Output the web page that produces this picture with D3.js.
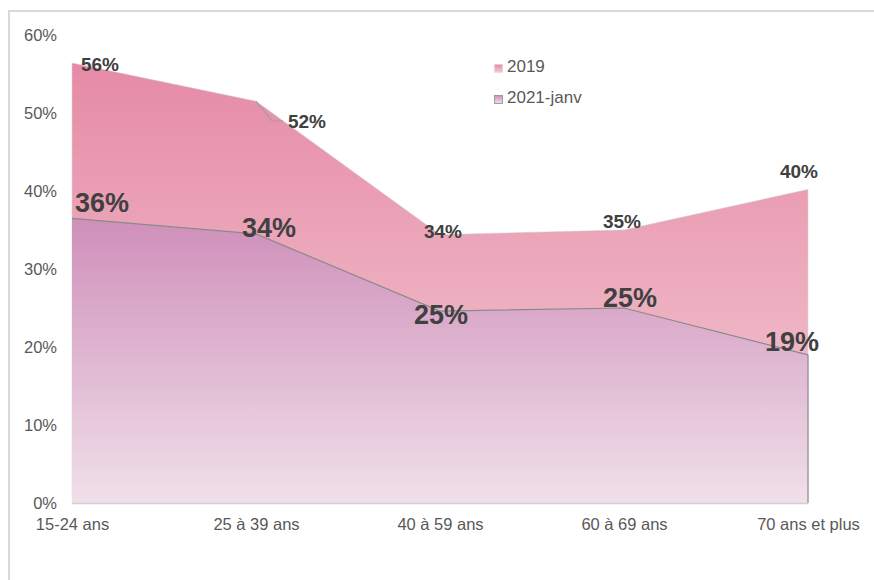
<!DOCTYPE html>
<html><head><meta charset="utf-8">
<script src="https://cdn.jsdelivr.net/npm/d3@7"></script>
<style>body{margin:0;background:#fff}svg{display:block}text{font-family:"Liberation Sans",Arial,sans-serif}</style>
</head><body>
<script>
const categories = ["15-24 ans","25 à 39 ans","40 à 59 ans","60 à 69 ans","70 ans et plus"];
const series2019 = [56.4, 51.5, 34.4, 35.0, 40.2];
const series2021 = [36.5, 34.5, 24.6, 25.0, 19.0];
const labels2019 = ["56%","52%","34%","35%","40%"];
const labels2021 = ["36%","34%","25%","25%","19%"];
const yTicks = [0,10,20,30,40,50,60];
const seriesNames = ["2019","2021-janv"];

const W=874,H=580;
const svg=d3.select("body").append("svg").attr("width",W).attr("height",H);
const defs=svg.append("defs");
const g1=defs.append("linearGradient").attr("id","g2019").attr("x1",0).attr("y1",0).attr("x2",0).attr("y2",1);
g1.append("stop").attr("offset","0%").attr("stop-color","#e68aa6");
g1.append("stop").attr("offset","100%").attr("stop-color","#f3cdd6");
const g2=defs.append("linearGradient").attr("id","g2021").attr("x1",0).attr("y1",0).attr("x2",0).attr("y2",1);
g2.append("stop").attr("offset","0%").attr("stop-color","#cf8fba");
g2.append("stop").attr("offset","100%").attr("stop-color","#f0e0e9");

// outer border
svg.append("rect").attr("x",9).attr("y",11).attr("width",W).attr("height",H).attr("fill","none").attr("stroke","#d9d9d9").attr("stroke-width",2);

const x=d3.scalePoint().domain(categories).range([72,808]);
const y=d3.scaleLinear().domain([0,60]).range([503,35]);

const area=d3.area().x((d,i)=>x(categories[i])).y0(y(0)).y1(d=>y(d));
const line=d3.line().x((d,i)=>x(categories[i])).y(d=>y(d));

// 2019 area
svg.append("path").datum(series2019).attr("d",area).attr("fill","url(#g2019)");
svg.append("path").datum(series2019).attr("d",line).attr("fill","none").attr("stroke","#c8c8c8").attr("stroke-width",1).attr("stroke-dasharray","1,1");
[0,4].forEach(i=>svg.append("line").attr("x1",x(categories[i])).attr("x2",x(categories[i])).attr("y1",y(series2019[i])).attr("y2",y(0)).attr("stroke","#d8d8d8").attr("stroke-dasharray","1,1"));

// 2021 area
svg.append("path").datum(series2021).attr("d",area).attr("fill","url(#g2021)");
svg.append("path").datum(series2021).attr("d",line).attr("fill","none").attr("stroke","#8a8a8a").attr("stroke-width",1.2);
svg.append("line").attr("x1",x(categories[4])).attr("x2",x(categories[4])).attr("y1",y(series2021[4])).attr("y2",y(0)).attr("stroke","#8a8a8a").attr("stroke-width",1.2);

// x axis baseline
svg.append("line").attr("x1",72).attr("x2",808).attr("y1",y(0)+0.5).attr("y2",y(0)+0.5).attr("stroke","#d0d0d0").attr("stroke-width",1.5);

// y axis labels
const yAxis=d3.axisLeft(y).tickValues(yTicks).tickFormat(d=>d+"%").tickSize(0).tickPadding(0);
const ya=svg.append("g").attr("transform","translate(57,0)").call(yAxis);
ya.select(".domain").remove();
ya.selectAll("text").attr("fill","#595959").attr("font-size","16.5px").attr("font-family","Liberation Sans, Arial, sans-serif").attr("dy","0.36em");

// x axis labels
const xAxis=d3.axisBottom(x).tickSize(0).tickPadding(0);
const xa=svg.append("g").attr("transform","translate(0,530)").call(xAxis);
xa.select(".domain").remove();
xa.selectAll("text").attr("fill","#595959").attr("font-size","16.5px").attr("font-family","Liberation Sans, Arial, sans-serif").attr("dy",0);

// leader line for 52%
svg.append("polyline").attr("points",[[x(categories[1]),y(series2019[1])],[272,121],[283,121]].map(p=>p.join(",")).join(" "))
  .attr("fill","none").attr("stroke","#a0a0a0").attr("stroke-width",1.2);

// labels 2019
const pos2019=[[100,71],[307,128],[443,238],[622,228],[799,178]];
svg.selectAll(".l19").data(labels2019).enter().append("text")
  .attr("x",(d,i)=>pos2019[i][0]).attr("y",(d,i)=>pos2019[i][1]).attr("text-anchor","middle")
  .attr("font-size","19px").attr("font-weight","bold").attr("fill","#404040").text(d=>d);
// labels 2021
const pos2021=[[102,212],[269,237],[441,324],[630,307],[792,351]];
svg.selectAll(".l21").data(labels2021).enter().append("text")
  .attr("x",(d,i)=>pos2021[i][0]).attr("y",(d,i)=>pos2021[i][1]).attr("text-anchor","middle")
  .attr("font-size","27px").attr("font-weight","bold").attr("fill","#404040").text(d=>d);

// legend
const leg=svg.append("g");
const legY=[72,103];
seriesNames.forEach((n,i)=>{
  leg.append("rect").attr("x",494.5).attr("y",legY[i]-7.5).attr("width",8).attr("height",8)
    .attr("fill",i===0?"url(#g2019)":"url(#g2021)").attr("stroke",i===0?"#d0d0d0":"#8a8a8a").attr("stroke-width",0.8)
    .attr("stroke-dasharray",i===0?"1,1":null);
  leg.append("text").attr("x",507).attr("y",legY[i]).attr("font-size","17px").attr("fill","#595959").text(n);
});
</script>
</body></html>
